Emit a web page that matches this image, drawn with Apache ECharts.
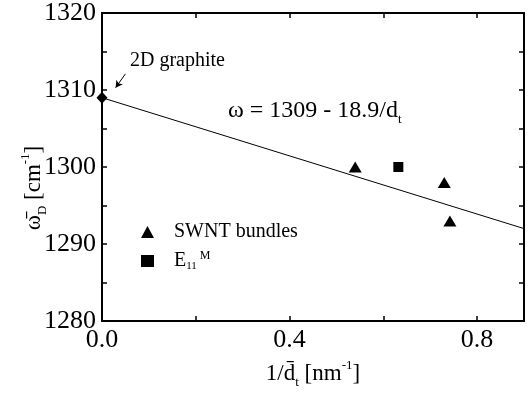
<!DOCTYPE html>
<html>
<head>
<meta charset="utf-8">
<script src="https://cdn.jsdelivr.net/npm/echarts@6/dist/echarts.min.js"></script>
<style>
  html, body { margin: 0; padding: 0; background: #fff; }
  #chart { width: 531px; height: 394px; }
</style>
</head>
<body>
<div id="chart"></div>
<script>
// values
const graphite = [[0, 1309]];
const swntBundles = [[0.54, 1300], [0.73, 1298], [0.742, 1293]];
const e11m = [[0.632, 1300]];
const fitLine = [[0, 1309], [0.9, 1292]];
const arrowFrom = [0.05, 1312.1];
const arrowTo = [0.029, 1310.3];
const xLabels = [0, 0.4, 0.8];
const yLabels = [1280, 1290, 1300, 1310, 1320];

const serif = "'Liberation Serif', 'Times New Roman', serif";
const black = '#000';

const chart = echarts.init(document.getElementById('chart'));

const near = (v, list) => list.some(l => Math.abs(v - l) < 1e-6);

const frameAxis = {
  axisLine: { show: true, onZero: false, lineStyle: { color: black, width: 2 } },
  axisTick: { show: true, inside: true, length: 5, lineStyle: { color: black, width: 1.5 } },
  splitLine: { show: false },
};

const nameRich = {
  t: { fontFamily: serif, fontSize: 23, fill: black, color: black, lineHeight: 30 },
  s: { fontFamily: serif, fontSize: 13, fill: black, color: black, verticalAlign: 'bottom', lineHeight: 30, padding: [14, 0, 0, 0] },
  p: { fontFamily: serif, fontSize: 13, fill: black, color: black, verticalAlign: 'top', lineHeight: 30, padding: [0, 0, 12, 0] }
};

chart.setOption({
  animation: false,
  textStyle: { fontFamily: serif, color: black },
  grid: { left: 102, right: 7, top: 13, bottom: 71 },
  xAxis: [
    {
      ...frameAxis,
      type: 'value', min: 0, max: 0.9, interval: 0.2, position: 'bottom',
      axisLabel: {
        fontFamily: serif, fontSize: 26, color: black, margin: 6,
        formatter: v => near(v, xLabels) ? v.toFixed(1) : ''
      },
      name: '{t|1/d̄}{s|t}{t| [nm}{p|-1}{t|]}',
      nameLocation: 'middle',
      nameGap: 38,
      nameTextStyle: { rich: nameRich }
    },
    {
      ...frameAxis,
      type: 'value', min: 0, max: 0.9, interval: 0.2, position: 'top',
      axisLabel: { show: false }
    }
  ],
  yAxis: [
    {
      ...frameAxis,
      type: 'value', min: 1280, max: 1320, interval: 5, position: 'left',
      axisLabel: {
        fontFamily: serif, fontSize: 26, color: black, margin: 6,
        formatter: v => near(v, yLabels) ? String(v) : ''
      }
    },
    {
      ...frameAxis,
      type: 'value', min: 1280, max: 1320, interval: 5, position: 'right',
      axisLabel: { show: false }
    }
  ],
  legend: {
    orient: 'vertical',
    left: 136,
    top: 217,
    itemGap: 7,
    itemWidth: 13,
    itemHeight: 12,
    data: [
      { name: 'SWNT bundles', icon: 'triangle' },
      { name: 'E11M', icon: 'rect' }
    ],
    formatter: name => name === 'E11M' ? '{t|E}{s|11}{p|M}' : '{t|' + name + '}',
    textStyle: {
      padding: [0, 0, 0, 15],
      rich: {
        t: { fontFamily: serif, fontSize: 20, color: black, lineHeight: 22 },
        s: { fontFamily: serif, fontSize: 11, color: black, verticalAlign: 'bottom', lineHeight: 22, padding: [12, 0, 0, 0] },
        p: { fontFamily: serif, fontSize: 12, color: black, verticalAlign: 'top', lineHeight: 12, padding: [0, 0, 8, 3] }
      }
    }
  },
  graphic: [
    {
      type: 'text', x: 34, y: 188, rotation: Math.PI / 2,
      style: {
        text: '{t|ω̄}{s|D}{t| [cm}{p|-1}{t|]}',
        align: 'center', verticalAlign: 'middle',
        rich: nameRich
      }
    },
    {
      type: 'text', left: 130, top: 51,
      style: { text: '2D graphite', font: '20px ' + serif, fill: black }
    },
    {
      type: 'text', left: 228, top: 97,
      style: {
        text: '{t|ω = 1309 - 18.9/d}{s|t}',
        rich: {
          t: { fontFamily: serif, fontSize: 24, fill: black, lineHeight: 30 },
          s: { fontFamily: serif, fontSize: 13, fill: black, verticalAlign: 'bottom', lineHeight: 30, padding: [16, 0, 0, 0] }
        }
      }
    }
  ],
  series: [
    {
      type: 'line',
      data: fitLine,
      symbol: 'none',
      lineStyle: { color: black, width: 1 },
      silent: true,
      z: 2
    },
    {
      type: 'scatter',
      data: graphite,
      symbol: 'diamond',
      symbolSize: [11, 12],
      itemStyle: { color: black, opacity: 1 },
      z: 3,
      markLine: {
        silent: true,
        symbol: ['none', 'arrow'],
        symbolSize: [6, 7],
        label: { show: false },
        lineStyle: { color: black, width: 1, type: 'solid' },
        data: [[{ coord: arrowFrom }, { coord: arrowTo }]]
      }
    },
    {
      name: 'SWNT bundles',
      type: 'scatter',
      data: swntBundles,
      symbol: 'triangle',
      symbolSize: [13, 11],
      itemStyle: { color: black, opacity: 1 },
      z: 3
    },
    {
      name: 'E11M',
      type: 'scatter',
      data: e11m,
      symbol: 'rect',
      symbolSize: [10, 10],
      itemStyle: { color: black, opacity: 1 },
      z: 3
    }
  ]
});
</script>
</body>
</html>
